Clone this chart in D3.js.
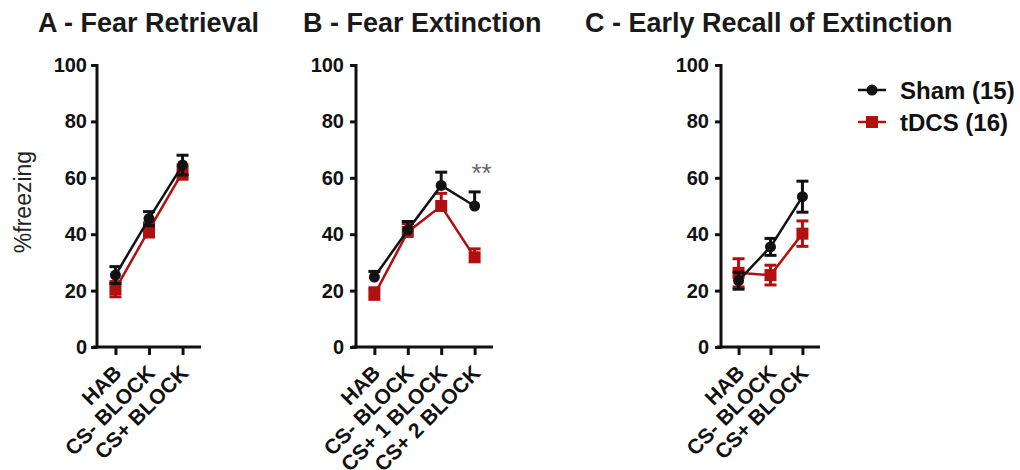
<!DOCTYPE html>
<style>
body { margin: 0; background: #fff; }
svg { font-family: "Liberation Sans", Arial, sans-serif; }
</style>
<svg width="1020" height="470"></svg>
<script src="https://d3js.org/d3.v7.min.js"></script>
<script>

var catsA = ["HAB", "CS- BLOCK", "CS+ BLOCK"];
var catsB = ["HAB", "CS- BLOCK", "CS+ 1 BLOCK", "CS+ 2 BLOCK"];
var catsC = ["HAB", "CS- BLOCK", "CS+ BLOCK"];

var shamA = [25.5, 45.5, 64.5], shamSemA = [3, 2.5, 3.5];
var tdcsA = [20.5, 41.5, 62], tdcsSemA = [2.7, 2.5, 2.5];

var shamB = [24.8, 41.5, 57.3, 50], shamSemB = [2, 3, 4.7, 5];
var tdcsB = [18.5, 40.8, 50, 31.8], tdcsSemB = [2.5, 3, 4.5, 3];

var shamC = [23.5, 35.5, 53.3], shamSemC = [3, 3, 5.5];
var tdcsC = [26.3, 25.5, 40.2], tdcsSemC = [5, 3.5, 4.5];

var yTicks = [0, 20, 40, 60, 80, 100];
var groups = ["Sham (15)", "tDCS (16)"];

var svg = d3.select("svg");
var black = "#111", red = "#b01010";

var panels = [
  {title: "A - Fear Retrieval", tx: 38, x0: 97, w: 104, cats: catsA, sham: shamA, shamSem: shamSemA, tdcs: tdcsA, tdcsSem: tdcsSemA, upOnly: false},
  {title: "B - Fear Extinction", tx: 303, x0: 356, w: 137, cats: catsB, sham: shamB, shamSem: shamSemB, tdcs: tdcsB, tdcsSem: tdcsSemB, upOnly: true},
  {title: "C - Early Recall of Extinction", tx: 585, x0: 721, w: 99, cats: catsC, sham: shamC, shamSem: shamSemC, tdcs: tdcsC, tdcsSem: tdcsSemC, upOnly: false}
];

var y = d3.scaleLinear().domain([0, 100]).range([347, 65]);

panels.forEach(function(p, pi) {
  var g = svg.append("g");

  g.append("text")
    .attr("x", p.tx).attr("y", 32)
    .attr("font-size", 27).attr("font-weight", "bold").attr("fill", "#1a1a1a")
    .text(p.title);

  var x = d3.scalePoint().domain(p.cats).range([p.x0, p.x0 + p.w]).padding(0.55);

  // y axis
  var yAxis = g.append("g").attr("transform", "translate(" + p.x0 + ",0)")
    .call(d3.axisLeft(y).tickValues(yTicks).tickSize(6).tickPadding(pi == 0 ? 4 : 6));
  yAxis.select(".domain").attr("stroke", black).attr("stroke-width", 3).attr("d", "M0," + (y(100) - 1) + "V" + (y(0) + 1.5));
  yAxis.selectAll(".tick line").attr("stroke", black).attr("stroke-width", 3);
  yAxis.selectAll(".tick text").attr("font-size", 20).attr("font-weight", "bold").attr("fill", "#111")
    .attr("font-family", "Liberation Sans, Arial, sans-serif");

  // x axis
  var xAxis = g.append("g").attr("transform", "translate(0," + y(0) + ")")
    .call(d3.axisBottom(x).tickSize(8).tickFormat(""));
  xAxis.select(".domain").attr("stroke", black).attr("stroke-width", 3).attr("d", "M" + (p.x0 - 4) + ",0H" + (p.x0 + p.w));
  xAxis.selectAll(".tick line").attr("stroke", black).attr("stroke-width", 3);

  g.selectAll(".xlab").data(p.cats).enter().append("text")
    .attr("transform", function(d) { return "translate(" + (x(d) + 2) + "," + (y(0) + 22) + ") rotate(-45)"; })
    .attr("text-anchor", "end").attr("dy", "0.35em")
    .attr("font-size", 21).attr("font-weight", "bold").attr("fill", "#111")
    .text(function(d) { return d; });

  var series = [
    {vals: p.tdcs, sem: p.tdcsSem, color: red, shape: "square"},
    {vals: p.sham, sem: p.shamSem, color: black, shape: "circle"}
  ];

  series.forEach(function(s) {
    var pts = p.cats.map(function(c, i) { return {c: c, v: s.vals[i], e: s.sem[i]}; });
    var sg = g.append("g");

    sg.append("path")
      .attr("d", d3.line().x(function(d) { return x(d.c); }).y(function(d) { return y(d.v); })(pts))
      .attr("fill", "none").attr("stroke", s.color).attr("stroke-width", 2.5);

    pts.forEach(function(d) {
      var cx = x(d.c), top = y(d.v + d.e), bot = p.upOnly ? y(d.v) : y(d.v - d.e);
      sg.append("line").attr("x1", cx).attr("x2", cx).attr("y1", top).attr("y2", bot)
        .attr("stroke", s.color).attr("stroke-width", 3);
      sg.append("line").attr("x1", cx - 6).attr("x2", cx + 6).attr("y1", top).attr("y2", top)
        .attr("stroke", s.color).attr("stroke-width", 3);
      if (!p.upOnly)
        sg.append("line").attr("x1", cx - 6).attr("x2", cx + 6).attr("y1", bot).attr("y2", bot)
          .attr("stroke", s.color).attr("stroke-width", 3);
      if (s.shape == "circle")
        sg.append("circle").attr("cx", cx).attr("cy", y(d.v)).attr("r", 5.5).attr("fill", s.color);
      else
        sg.append("rect").attr("x", cx - 6).attr("y", y(d.v) - 6).attr("width", 12).attr("height", 12).attr("fill", s.color);
    });
  });

  if (pi == 1) {
    g.append("text")
      .attr("x", x(p.cats[3]) + 7).attr("y", 182)
      .attr("text-anchor", "middle").attr("font-size", 26).attr("fill", "#666")
      .text("**");
  }
});

// y label
svg.append("text")
  .attr("transform", "translate(31,202) rotate(-90)")
  .attr("text-anchor", "middle").attr("font-size", 23).attr("fill", "#222")
  .text("%freezing");

// legend
var leg = svg.append("g");
groups.forEach(function(name, i) {
  var ly = 90 + i * 32, c = i == 0 ? black : red;
  leg.append("line").attr("x1", 858).attr("x2", 886).attr("y1", ly).attr("y2", ly)
    .attr("stroke", c).attr("stroke-width", 2.5);
  if (i == 0)
    leg.append("circle").attr("cx", 872).attr("cy", ly).attr("r", 5.5).attr("fill", c);
  else
    leg.append("rect").attr("x", 866).attr("y", ly - 6).attr("width", 12).attr("height", 12).attr("fill", c);
  leg.append("text").attr("x", 900).attr("y", ly).attr("dy", "0.36em")
    .attr("font-size", 24).attr("font-weight", "bold").attr("fill", "#111")
    .text(name);
});

</script>
